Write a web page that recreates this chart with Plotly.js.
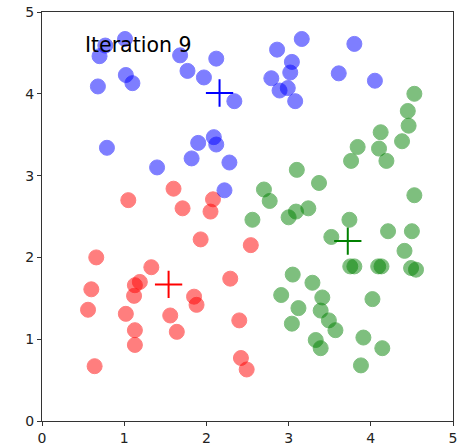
<!DOCTYPE html>
<html>
<head>
<meta charset="utf-8">
<script src="https://cdn.plot.ly/plotly-3.0.1.min.js"></script>
<style>html,body{margin:0;padding:0;background:#fff;}#chart{width:462px;height:446px;}</style>
</head>
<body>
<div id="chart"></div>
<script>
// Cluster points
const blueX = [1.01,0.70,0.77,0.68,1.02,1.10,1.68,1.77,2.12,1.97,2.34,0.79,1.90,2.09,2.12,1.82,1.40,2.28,2.22,3.16,2.86,3.80,3.04,3.02,2.79,2.89,2.99,3.08,3.61,4.05];
const blueY = [4.67,4.46,4.59,4.09,4.23,4.13,4.47,4.28,4.43,4.20,3.91,3.34,3.40,3.47,3.38,3.21,3.10,3.16,2.82,4.67,4.54,4.61,4.39,4.26,4.19,4.04,4.07,3.91,4.25,4.16];

const redX = [1.05,1.60,1.71,2.08,2.05,1.93,0.66,1.33,1.19,1.13,0.60,1.12,0.56,1.02,1.85,1.88,1.56,2.29,1.64,1.13,1.13,2.40,0.64,2.42,2.49,2.54];
const redY = [2.70,2.84,2.60,2.71,2.56,2.22,2.00,1.88,1.70,1.66,1.61,1.53,1.36,1.31,1.52,1.42,1.29,1.74,1.09,1.11,0.93,1.23,0.67,0.77,0.63,2.15];

const greenX = [4.53,4.45,4.46,4.12,4.38,3.84,4.10,4.19,3.76,3.10,3.37,2.70,2.77,3.09,3.24,3.00,2.56,3.74,4.53,3.52,4.21,4.50,4.41,3.75,3.80,4.09,4.13,4.49,4.55,3.05,3.29,2.91,3.41,3.12,3.39,3.49,3.57,3.04,3.33,3.39,4.02,3.91,4.14,3.88];
const greenY = [4.00,3.79,3.61,3.53,3.42,3.35,3.33,3.18,3.18,3.07,2.91,2.83,2.69,2.56,2.60,2.49,2.46,2.46,2.76,2.25,2.32,2.32,2.08,1.89,1.89,1.89,1.89,1.87,1.85,1.79,1.69,1.54,1.51,1.38,1.35,1.23,1.11,1.19,0.99,0.89,1.49,1.02,0.89,0.68];

// Centroids: [red, green, blue]
const centroidX = [1.54, 3.72, 2.16];
const centroidY = [1.67, 2.20, 4.01];
const centroidColors = ['#ff0000', '#008000', '#0000ff'];

const titleText = 'Iteration 9';
const tickVals = [0,1,2,3,4,5];

function pts(x, y, color) {
  return {
    type: 'scatter', mode: 'markers', x: x, y: y, hoverinfo: 'skip',
    marker: {size: 15, color: color, opacity: 0.5, line: {color: color, width: 1}}
  };
}

const traces = [
  pts(redX, redY, '#ff0000'),
  pts(greenX, greenY, '#008000'),
  pts(blueX, blueY, '#0000ff')
];
for (let i = 0; i < centroidX.length; i++) {
  traces.push({
    type: 'scatter', mode: 'markers', x: [centroidX[i]], y: [centroidY[i]], hoverinfo: 'skip',
    marker: {symbol: 'cross-thin', size: 19.5, color: centroidColors[i], line: {color: centroidColors[i], width: 2}}
  });
}

const axisCommon = {
  range: [0, 5], tickvals: tickVals, ticktext: tickVals.map(String),
  showgrid: false, zeroline: false, showline: true, mirror: true,
  linecolor: '#333', linewidth: 1, ticks: 'outside', ticklen: 4, tickwidth: 1, tickcolor: '#333',
  tickfont: {family: 'DejaVu Sans', size: 14, color: '#222'}, fixedrange: true
};

const layout = {
  width: 462, height: 446,
  margin: {l: 42, r: 9, t: 12, b: 25},
  paper_bgcolor: '#fff', plot_bgcolor: '#fff',
  showlegend: false,
  xaxis: Object.assign({}, axisCommon),
  yaxis: Object.assign({}, axisCommon),
  annotations: [{
    x: 0.5, y: 4.6, xref: 'x', yref: 'y', xanchor: 'left', yanchor: 'middle',
    text: titleText, showarrow: false,
    font: {family: 'DejaVu Sans', size: 20.5, color: '#000'}
  }]
};

Plotly.newPlot('chart', traces, layout, {displayModeBar: false, staticPlot: true});
</script>
</body>
</html>
